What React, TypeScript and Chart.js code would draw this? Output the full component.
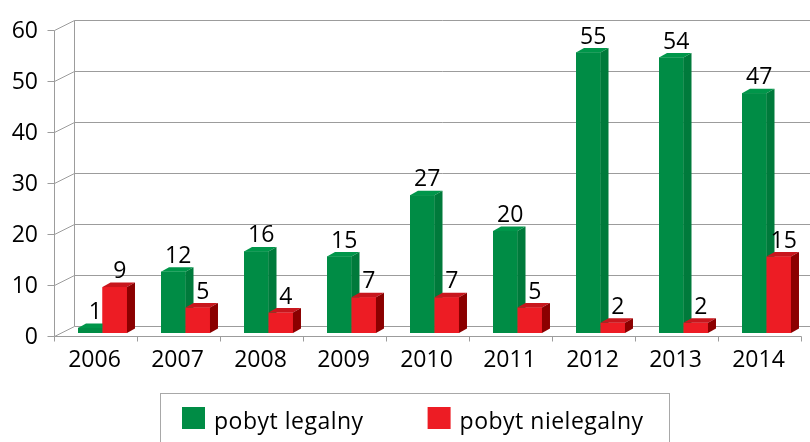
import React, { useEffect, useRef } from "react";
import { Chart, registerables } from "chart.js";

Chart.register(...registerables);

const YEARS = ["2006", "2007", "2008", "2009", "2010", "2011", "2012", "2013", "2014"];
const LEGAL = [1, 12, 16, 15, 27, 20, 55, 54, 47];
const ILLEGAL = [9, 5, 4, 7, 7, 5, 2, 2, 15];
const SERIES_NAMES = ["pobyt legalny", "pobyt nielegalny"];
const Y_TICKS = [0, 10, 20, 30, 40, 50, 60];

const FRONT = ["#008C45", "#ED1C24"];
const TOP = ["#00964A", "#C8161D"];
const SIDE = ["#007A3B", "#8B0000"];

const FONT = "23px 'Open Sans', 'Noto Sans', sans-serif";
const GRID = "#9c9c9c";
const TEXT = "#000000";

// 3D geometry offsets relative to the bar plane
const BACK_DX = 13;
const BACK_DY = -7;
const FRONT_DX = -7;
const FRONT_DY = 3;
const DEPTH_DX = 8;
const DEPTH_DY = -4.5;

const threeD = {
  id: "threeD",
  beforeDatasetsDraw(chart: any) {
    const ctx = chart.ctx;
    const xs = chart.scales.x;
    const ys = chart.scales.y;
    const W = chart.width;
    const backL = xs.left + BACK_DX;
    const frontL = xs.left + FRONT_DX;
    const frontR = xs.right + FRONT_DX;
    ctx.save();
    ctx.strokeStyle = GRID;
    ctx.lineWidth = 1;
    const r = (v: number) => Math.round(v) + 0.5;
    ctx.beginPath();
    for (const v of Y_TICKS) {
      const y = ys.getPixelForValue(v);
      ctx.moveTo(r(backL), r(y + BACK_DY));
      ctx.lineTo(W, r(y + BACK_DY));
      ctx.moveTo(r(frontL), r(y + FRONT_DY));
      ctx.lineTo(r(backL), r(y + BACK_DY));
      ctx.moveTo(r(frontL) - 7, r(y + FRONT_DY));
      ctx.lineTo(r(frontL), r(y + FRONT_DY));
    }
    const yTop = ys.getPixelForValue(Y_TICKS[Y_TICKS.length - 1]);
    const yBot = ys.getPixelForValue(0);
    ctx.moveTo(r(backL), r(yTop + BACK_DY));
    ctx.lineTo(r(backL), r(yBot + BACK_DY));
    ctx.moveTo(r(frontL), r(yTop + FRONT_DY));
    ctx.lineTo(r(frontL), r(yBot + FRONT_DY));
    ctx.moveTo(r(frontL), r(yBot + FRONT_DY));
    ctx.lineTo(r(frontR), r(yBot + FRONT_DY));
    const step = (xs.right - xs.left) / YEARS.length;
    for (let k = 0; k <= YEARS.length; k++) {
      const x = r(xs.left + FRONT_DX + step * k);
      ctx.moveTo(x, r(yBot + FRONT_DY));
      ctx.lineTo(x, r(yBot + FRONT_DY) + 5);
    }
    ctx.stroke();

    ctx.fillStyle = TEXT;
    ctx.font = FONT;
    ctx.textAlign = "right";
    ctx.textBaseline = "alphabetic";
    for (const v of Y_TICKS) {
      const y = ys.getPixelForValue(v) + FRONT_DY;
      ctx.fillText(String(v), 38, y + 8);
    }
    ctx.textAlign = "center";
    YEARS.forEach((lab, i) => {
      const x = xs.getPixelForValue(i) + FRONT_DX;
      ctx.fillText(lab, x - 1, yBot + FRONT_DY + 30.5);
    });
    ctx.restore();
  },
  afterDatasetsDraw(chart: any) {
    const ctx = chart.ctx;
    const n = chart.data.labels.length;
    const metas = chart.data.datasets.map((_: any, d: number) => chart.getDatasetMeta(d));
    ctx.save();
    for (let i = 0; i < n; i++) {
      metas.forEach((meta: any, d: number) => {
        const bar = meta.data[i];
        const { x, y, base, width } = bar.getProps(["x", "y", "base", "width"], true);
        const L = x - width / 2;
        const R = x + width / 2;
        ctx.fillStyle = FRONT[d];
        ctx.fillRect(L, y, width, base - y);
        ctx.fillStyle = TOP[d];
        ctx.beginPath();
        ctx.moveTo(L, y);
        ctx.lineTo(R, y);
        ctx.lineTo(R + DEPTH_DX, y + DEPTH_DY);
        ctx.lineTo(L + DEPTH_DX, y + DEPTH_DY);
        ctx.closePath();
        ctx.fill();
        ctx.fillStyle = SIDE[d];
        ctx.beginPath();
        ctx.moveTo(R, y);
        ctx.lineTo(R + DEPTH_DX, y + DEPTH_DY);
        ctx.lineTo(R + DEPTH_DX, base + DEPTH_DY);
        ctx.lineTo(R, base);
        ctx.closePath();
        ctx.fill();
      });
    }
    ctx.fillStyle = TEXT;
    ctx.font = FONT;
    ctx.textAlign = "center";
    ctx.textBaseline = "alphabetic";
    metas.forEach((meta: any, d: number) => {
      meta.data.forEach((bar: any, i: number) => {
        const { x, y } = bar.getProps(["x", "y"], true);
        ctx.fillText(String(chart.data.datasets[d].data[i]), x + 5, y - 9);
      });
    });
    ctx.restore();
  },
  afterDraw(chart: any) {
    const ctx = chart.ctx;
    ctx.save();
    ctx.strokeStyle = "#a8a8a8";
    ctx.lineWidth = 1;
    ctx.strokeRect(160.5, 393.5, 509, 80);
    ctx.font = FONT;
    (ctx as any).letterSpacing = "0.5px";
    ctx.textAlign = "left";
    ctx.textBaseline = "alphabetic";
    let x = 182;
    chart.data.datasets.forEach((ds: any, d: number) => {
      ctx.fillStyle = FRONT[d];
      ctx.fillRect(x, 407, 23, 22);
      ctx.fillStyle = TEXT;
      ctx.fillText(ds.label, x + 32, 429);
      const w = ctx.measureText(ds.label).width;
      x = x + 32 + w + 64;
    });
    ctx.restore();
  },
};

export default function App() {
  const ref = useRef<HTMLCanvasElement>(null);
  useEffect(() => {
    if (!ref.current) return;
    const chart = new Chart(ref.current, {
      type: "bar",
      data: {
        labels: YEARS,
        datasets: [
          { label: SERIES_NAMES[0], data: LEGAL, backgroundColor: FRONT[0], borderWidth: 0 },
          { label: SERIES_NAMES[1], data: ILLEGAL, backgroundColor: FRONT[1], borderWidth: 0 },
        ],
      },
      options: {
        responsive: false,
        animation: false,
        devicePixelRatio: 1,
        layout: { padding: { left: 61, right: 2, top: 27, bottom: 109 } },
        datasets: { bar: { categoryPercentage: 0.59, barPercentage: 1 } },
        scales: {
          x: { display: false, offset: true },
          y: { display: false, min: 0, max: 60 },
        },
        plugins: { legend: { display: false }, tooltip: { enabled: false } },
      },
      plugins: [threeD],
    });
    return () => chart.destroy();
  }, []);
  return (
    <div style={{ position: "absolute", left: 0, top: 0, width: 810, height: 442, background: "#fff" }}>
      <canvas ref={ref} width={810} height={442} style={{ display: "block" }} />
    </div>
  );
}
